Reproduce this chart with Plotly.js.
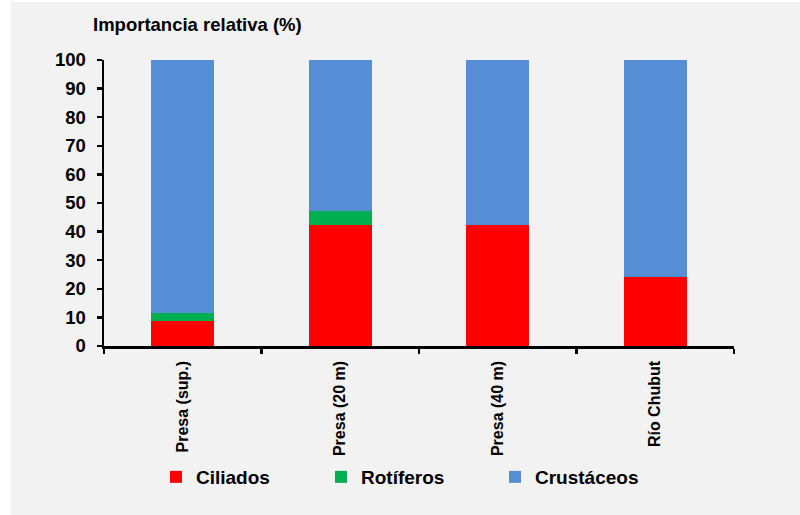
<!DOCTYPE html>
<html>
<head>
<meta charset="utf-8">
<script src="https://cdn.plot.ly/plotly-3.0.1.min.js"></script>
<style>
  html, body { margin: 0; padding: 0; background: #ffffff; width: 800px; height: 515px; overflow: hidden; }
  #chart { position: absolute; left: 11px; top: 2px; width: 789px; height: 513px; }
</style>
</head>
<body>
<div id="chart"></div>
<script>
const categories = ["Presa (sup.)", "Presa (20 m)", "Presa (40 m)", "Río Chubut"];
const ciliados   = [8.7, 42.4, 42.4, 24.3];
const rotiferos  = [2.8, 4.8, 0, 0];
const crustaceos = [88.5, 52.8, 57.6, 75.7];
const yTicks = [0, 10, 20, 30, 40, 50, 60, 70, 80, 90, 100];

const FONT = "Liberation Sans, Arial, sans-serif";
const W = 789, H = 513;

const traces = [
  {type: "bar", name: "Ciliados", x: categories, y: ciliados,
   marker: {color: "#ff0000", line: {width: 0}}, legend: "legend"},
  {type: "bar", name: "Rotíferos", x: categories, y: rotiferos,
   marker: {color: "#00b050", line: {width: 0}}, legend: "legend2"},
  {type: "bar", name: "Crustáceos", x: categories, y: crustaceos,
   marker: {color: "#558ed5", line: {width: 0}}, legend: "legend3"}
];

function leg(xpx) {
  return {
    orientation: "h", xref: "container", yref: "container",
    x: xpx / W, y: 1 - 475 / H, xanchor: "left", yanchor: "middle",
    bgcolor: "rgba(0,0,0,0)", borderwidth: 0,
    font: {family: FONT, size: 19, weight: "bold", color: "#000"}
  };
}

const layout = {
  width: W, height: H,
  paper_bgcolor: "#f2f2f2", plot_bgcolor: "#f2f2f2",
  margin: {l: 93, r: 66, t: 58, b: 169},
  barmode: "stack", bargap: 0.6,
  hovermode: false,
  title: {
    text: "Importancia relativa (%)",
    xref: "container", yref: "container",
    x: 82 / W, xanchor: "left",
    y: 1 - 22.5 / H, yanchor: "middle",
    font: {family: FONT, size: 18.5, weight: "bold", color: "#000"}
  },
  xaxis: {
    type: "category", tickson: "boundaries",
    ticks: "outside", ticklen: 5, tickwidth: 2.5, tickcolor: "#000",
    showline: true, linecolor: "#000", linewidth: 2.5,
    showgrid: false, zeroline: false,
    tickangle: -90, ticklabelstandoff: 6,
    tickfont: {family: FONT, size: 16, weight: "bold", color: "#000"}
  },
  yaxis: {
    range: [0, 100], tickvals: yTicks, ticktext: yTicks.map(String),
    ticks: "outside", ticklen: 5, tickwidth: 2.5, tickcolor: "#000",
    showline: true, linecolor: "#000", linewidth: 2.5,
    showgrid: false, zeroline: false, ticklabelstandoff: 7,
    tickfont: {family: FONT, size: 18.5, weight: "bold", color: "#000"}
  },
  showlegend: true,
  legend: leg(145),
  legend2: leg(310),
  legend3: leg(484)
};

Plotly.newPlot("chart", traces, layout, {displayModeBar: false, staticPlot: true});
</script>
</body>
</html>
